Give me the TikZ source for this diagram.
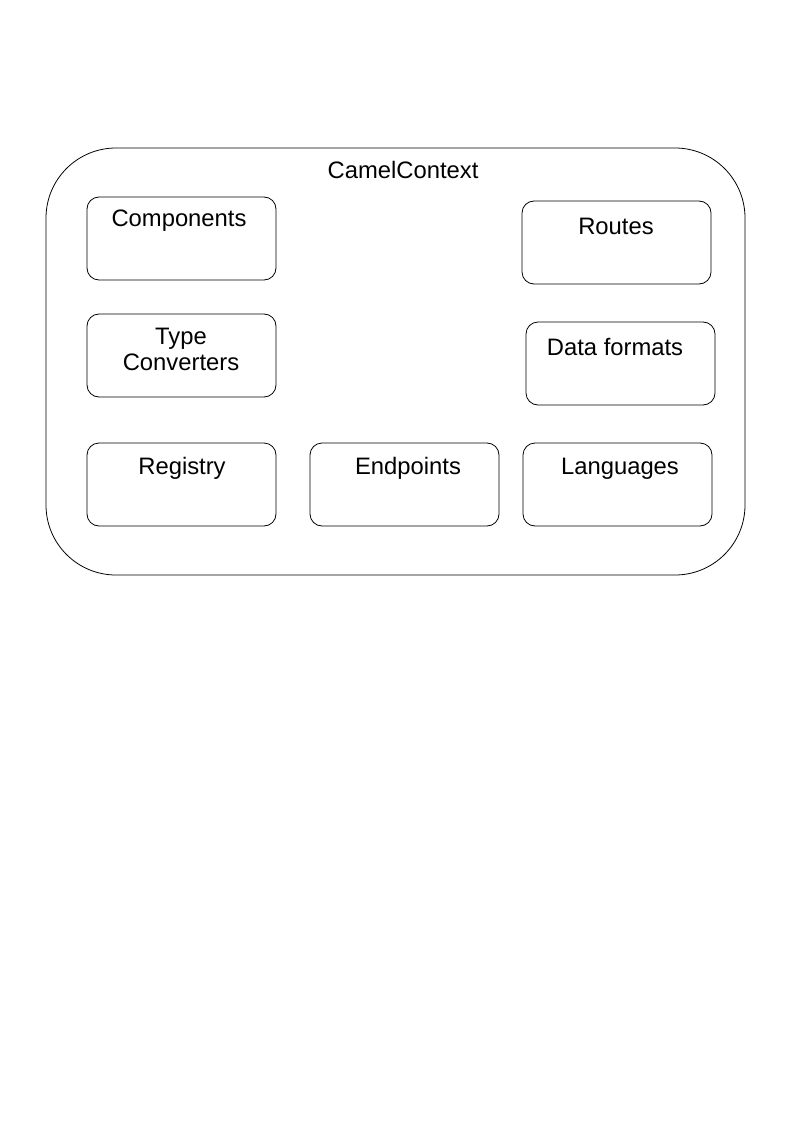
\documentclass[tikz,border=0pt]{standalone}
\usepackage{fontspec}
\setmainfont{Liberation Sans}
\begin{document}
\begin{tikzpicture}[x=1pt,y=-1pt,
  box/.style={draw=black,line width=0.8pt,rounded corners=12pt,minimum width=189pt,minimum height=83pt,inner sep=0pt},
  outer/.style={draw=black,line width=0.8pt,rounded corners=70pt,minimum width=699pt,minimum height=427pt,inner sep=0pt},
  lbl/.style={anchor=base,inner sep=0pt,font=\fontsize{23.8}{27}\selectfont,align=center}]
\useasboundingbox[fill=white] (0,0) rectangle (794,1123);
\node[outer] (ctx) at (395.5,361.5) {};
\node[lbl] (ctxl) at (403,179) {CamelContext};
\node[box] (comp) at (181.5,238.5) {};
\node[lbl] at (179,227) {Components};
\node[box] (routes) at (616.5,242.5) {};
\node[lbl] at (616,234) {Routes};
\node[box] (type) at (181.5,355.5) {};
\node[lbl] at (181,344) {Type};
\node[lbl] at (181,370) {Converters};
\node[box] (data) at (620.5,363.5) {};
\node[lbl] at (615,355) {Data formats};
\node[box] (reg) at (181.5,484.5) {};
\node[lbl] at (182,474) {Registry};
\node[box] (endp) at (404.5,484.5) {};
\node[lbl] at (408,474) {Endpoints};
\node[box] (lang) at (617.5,484.5) {};
\node[lbl] at (620,474) {Languages};
\end{tikzpicture}
\end{document}
